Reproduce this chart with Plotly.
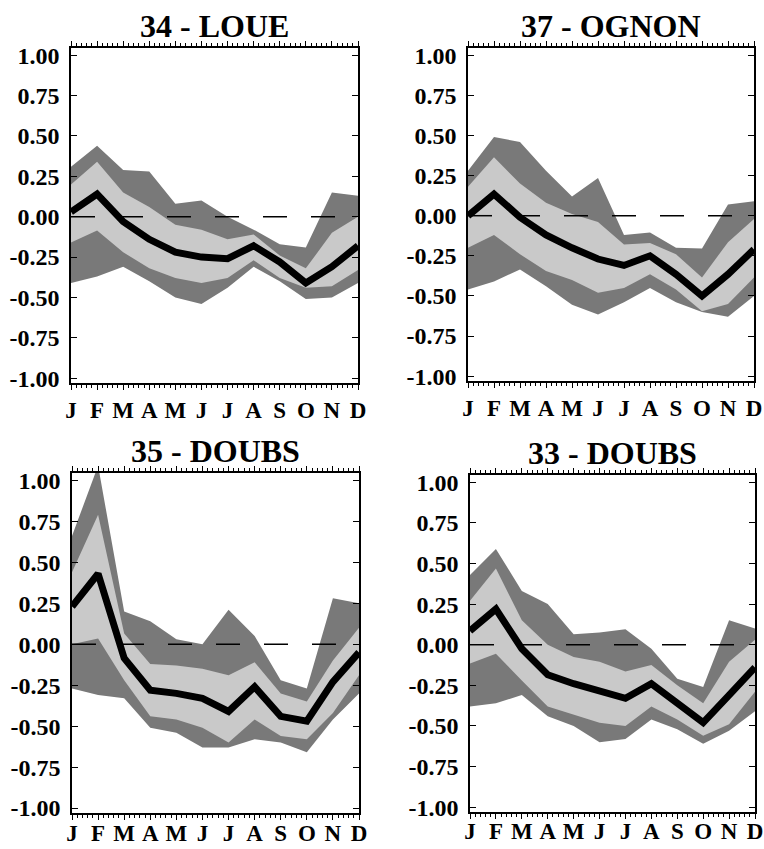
import plotly.graph_objects as go

# ---------------- data ----------------
months = ["J", "F", "M", "A", "M", "J", "J", "A", "S", "O", "N", "D"]
month_pos = list(range(12))
y_tick_vals = [1.0, 0.75, 0.5, 0.25, 0.0, -0.25, -0.5, -0.75, -1.0]
y_tick_text = ["1.00", "0.75", "0.50", "0.25", "0.00", "-0.25", "-0.50", "-0.75", "-1.00"]

titles = ["34 - LOUE", "37 - OGNON", "35 - DOUBS", "33 - DOUBS"]

# 34 - LOUE
loue34_outer_hi = [0.31, 0.44, 0.29, 0.28, 0.08, 0.10, 0.00, -0.08, -0.17, -0.19, 0.15, 0.13]
loue34_inner_hi = [0.20, 0.34, 0.15, 0.06, -0.05, -0.08, -0.14, -0.11, -0.24, -0.32, -0.10, 0.00]
loue34_median = [0.03, 0.14, -0.03, -0.14, -0.22, -0.25, -0.26, -0.18, -0.28, -0.41, -0.31, -0.18]
loue34_inner_lo = [-0.16, -0.085, -0.22, -0.32, -0.38, -0.41, -0.38, -0.27, -0.38, -0.44, -0.43, -0.33]
loue34_outer_lo = [-0.41, -0.37, -0.31, -0.40, -0.50, -0.54, -0.44, -0.31, -0.40, -0.51, -0.50, -0.41]

# 37 - OGNON
ognon37_outer_hi = [0.28, 0.49, 0.46, 0.28, 0.12, 0.235, -0.12, -0.105, -0.20, -0.205, 0.07, 0.09]
ognon37_inner_hi = [0.18, 0.365, 0.20, 0.08, 0.01, -0.04, -0.18, -0.17, -0.24, -0.385, -0.165, -0.02]
ognon37_median = [0.00, 0.135, -0.01, -0.12, -0.20, -0.27, -0.31, -0.25, -0.365, -0.50, -0.365, -0.21]
ognon37_inner_lo = [-0.20, -0.12, -0.24, -0.345, -0.40, -0.48, -0.45, -0.365, -0.46, -0.595, -0.55, -0.385]
ognon37_outer_lo = [-0.46, -0.41, -0.335, -0.44, -0.555, -0.615, -0.54, -0.45, -0.54, -0.60, -0.63, -0.50]

# 35 - DOUBS
doubs35_outer_hi = [0.66, 1.09, 0.20, 0.14, 0.03, 0.00, 0.21, 0.05, -0.22, -0.27, 0.28, 0.25]
doubs35_inner_hi = [0.44, 0.79, 0.065, -0.12, -0.13, -0.15, -0.19, -0.11, -0.30, -0.35, -0.10, 0.10]
doubs35_median = [0.23, 0.43, -0.085, -0.28, -0.30, -0.33, -0.41, -0.26, -0.44, -0.47, -0.23, -0.05]
doubs35_inner_lo = [0.00, 0.035, -0.22, -0.44, -0.46, -0.51, -0.60, -0.46, -0.56, -0.58, -0.42, -0.19]
doubs35_outer_lo = [-0.27, -0.31, -0.33, -0.51, -0.54, -0.63, -0.63, -0.58, -0.60, -0.66, -0.46, -0.30]

# 33 - DOUBS
doubs33_outer_hi = [0.43, 0.59, 0.33, 0.25, 0.065, 0.075, 0.095, -0.025, -0.21, -0.26, 0.15, 0.10]
doubs33_inner_hi = [0.27, 0.47, 0.15, 0.00, -0.075, -0.105, -0.165, -0.125, -0.25, -0.36, -0.105, 0.03]
doubs33_median = [0.085, 0.22, -0.025, -0.185, -0.24, -0.28, -0.33, -0.24, -0.36, -0.48, -0.31, -0.14]
doubs33_inner_lo = [-0.115, -0.055, -0.22, -0.38, -0.43, -0.48, -0.50, -0.38, -0.46, -0.56, -0.49, -0.29]
doubs33_outer_lo = [-0.38, -0.36, -0.31, -0.44, -0.50, -0.60, -0.58, -0.46, -0.52, -0.61, -0.53, -0.41]

panels = [
    (loue34_outer_hi, loue34_inner_hi, loue34_median, loue34_inner_lo, loue34_outer_lo),
    (ognon37_outer_hi, ognon37_inner_hi, ognon37_median, ognon37_inner_lo, ognon37_outer_lo),
    (doubs35_outer_hi, doubs35_inner_hi, doubs35_median, doubs35_inner_lo, doubs35_outer_lo),
    (doubs33_outer_hi, doubs33_inner_hi, doubs33_median, doubs33_inner_lo, doubs33_outer_lo),
]

# ---------------- layout geometry ----------------
W, H = 764, 849
px_boxes = [  # left, right, top, bottom in pixels
    (71, 358, 48, 383),
    (468, 754, 48, 381),
    (72, 359, 473, 813),
    (470, 755, 475, 812),
]
month_label_standoff = [1, 1, -6, -7]

FONT = "Liberation Serif, Times New Roman, serif"
DARK = "#797979"
LIGHT = "#c9c9c9"

fig = go.Figure()
layout = dict(
    width=W, height=H,
    margin=dict(l=0, r=0, t=0, b=0, pad=0, autoexpand=False),
    paper_bgcolor="white", plot_bgcolor="white",
    showlegend=False,
    annotations=[],
    shapes=[],
)

for i, (data, box, title, so) in enumerate(
        zip(panels, px_boxes, titles, month_label_standoff), start=1):
    outer_hi, inner_hi, median, inner_lo, outer_lo = data
    xa = "x" if i == 1 else f"x{i}"
    ya = "y" if i == 1 else f"y{i}"
    poly_x = month_pos + month_pos[::-1]
    fig.add_trace(go.Scatter(
        x=poly_x, y=outer_hi + outer_lo[::-1], fill="toself", fillcolor=DARK,
        line=dict(width=0, color=DARK), mode="lines", hoverinfo="skip",
        xaxis=xa, yaxis=ya))
    fig.add_trace(go.Scatter(
        x=poly_x, y=inner_hi + inner_lo[::-1], fill="toself", fillcolor=LIGHT,
        line=dict(width=0, color=LIGHT), mode="lines", hoverinfo="skip",
        xaxis=xa, yaxis=ya))
    fig.add_trace(go.Scatter(
        x=month_pos, y=median, mode="lines",
        line=dict(width=7, color="black"),
        xaxis=xa, yaxis=ya))

    l, r, t, b = box
    xdom = [l / W, r / W]
    ydom = [1 - b / H, 1 - t / H]
    axis_common = dict(showline=True, linecolor="black", linewidth=1.5,
                       mirror="ticks", showgrid=False, zeroline=False,
                       tickcolor="black", automargin=False)
    layout["xaxis" if i == 1 else f"xaxis{i}"] = dict(
        domain=xdom, range=[0, 11], anchor=ya,
        tickmode="array", tickvals=month_pos, ticktext=months,
        ticks="outside", ticklen=5, tickwidth=1.2,
        minor=dict(dtick=0.2, tick0=0, ticks="outside", ticklen=3,
                   tickwidth=1, tickcolor="black"),
        tickfont=dict(family=FONT, size=23, color="black", weight="bold"),
        ticklabelstandoff=so,
        **axis_common)
    layout["yaxis" if i == 1 else f"yaxis{i}"] = dict(
        domain=ydom, range=[-1.03, 1.045], anchor=xa,
        tickmode="array", tickvals=y_tick_vals, ticktext=y_tick_text,
        ticks="inside", ticklen=6, tickwidth=1.2,
        tickfont=dict(family=FONT, size=24, color="black", weight="bold"),
        ticklabelstandoff=5,
        **axis_common)
    layout["annotations"].append(dict(
        text=title, xref="paper", yref="paper",
        x=(xdom[0] + xdom[1]) / 2, y=ydom[1], xanchor="center", yanchor="bottom",
        yshift=2, showarrow=False,
        font=dict(family=FONT, size=32, color="black", weight="bold")))
    # dashed zero reference line spanning the subplot
    layout["shapes"].append(dict(
        type="line", xref=f"{xa} domain", yref=ya, x0=0, x1=1, y0=0, y1=0,
        line=dict(color="black", width=1.5, dash="24px,24px"), layer="above"))

fig.update_layout(**layout)

fig.write_html("out.html",
               config={"displayModeBar": False},
               post_script="document.body.style.margin='0';document.body.style.padding='0';")
